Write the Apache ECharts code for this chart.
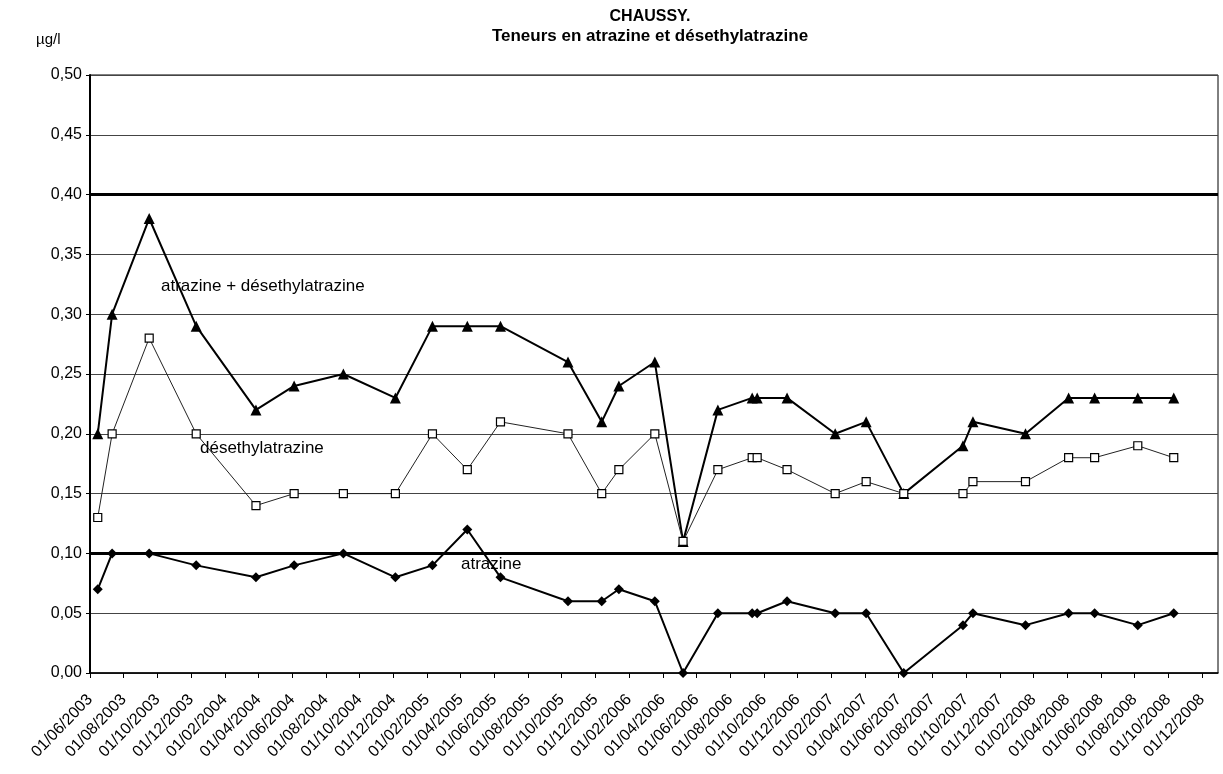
<!DOCTYPE html>
<html>
<head>
<meta charset="utf-8">
<script src="https://cdn.jsdelivr.net/npm/echarts@6/dist/echarts.min.js"></script>
<style>
html,body{margin:0;padding:0;background:#fff;}
#chart{width:1223px;height:774px;}
</style>
</head>
<body>
<div id="chart"></div>
<script>
// ---- data ----
const tickLabels = [
  "01/06/2003","01/08/2003","01/10/2003","01/12/2003",
  "01/02/2004","01/04/2004","01/06/2004","01/08/2004","01/10/2004","01/12/2004",
  "01/02/2005","01/04/2005","01/06/2005","01/08/2005","01/10/2005","01/12/2005",
  "01/02/2006","01/04/2006","01/06/2006","01/08/2006","01/10/2006","01/12/2006",
  "01/02/2007","01/04/2007","01/06/2007","01/08/2007","01/10/2007","01/12/2007",
  "01/02/2008","01/04/2008","01/06/2008","01/08/2008","01/10/2008","01/12/2008"
];
const sampleDates = [
  "2003-06-15","2003-07-11","2003-09-16","2003-12-10",
  "2004-03-27","2004-06-04","2004-09-01","2004-12-04",
  "2005-02-09","2005-04-13","2005-06-12","2005-10-12","2005-12-12",
  "2006-01-12","2006-03-18","2006-05-08","2006-07-10","2006-09-10","2006-09-19","2006-11-12",
  "2007-02-07","2007-04-04","2007-06-11","2007-09-26","2007-10-14",
  "2008-01-17","2008-04-04","2008-05-21","2008-08-07","2008-10-11"
];
const sumValues = [0.20,0.30,0.38,0.29,0.22,0.24,0.25,0.23,0.29,0.29,0.29,0.26,0.21,0.24,0.26,0.11,0.22,0.23,0.23,0.23,0.20,0.21,0.15,0.19,0.21,0.20,0.23,0.23,0.23,0.23];
const desValues = [0.13,0.20,0.28,0.20,0.14,0.15,0.15,0.15,0.20,0.17,0.21,0.20,0.15,0.17,0.20,0.11,0.17,0.18,0.18,0.17,0.15,0.16,0.15,0.15,0.16,0.16,0.18,0.18,0.19,0.18];
const atrValues = [0.07,0.10,0.10,0.09,0.08,0.09,0.10,0.08,0.09,0.12,0.08,0.06,0.06,0.07,0.06,0.00,0.05,0.05,0.05,0.06,0.05,0.05,0.00,0.04,0.05,0.04,0.05,0.05,0.04,0.05];
const thresholds = [0.40, 0.10];

// ---- helpers ----
const DAY = 86400000;
const origin = Date.UTC(2003, 5, 1);
function dayOf(s){ const p = s.split('-').map(Number); return (Date.UTC(p[0], p[1]-1, p[2]) - origin) / DAY; }
const xs = sampleDates.map(dayOf);
const lastTickDay = dayOf("2008-12-01");
const tickInterval = lastTickDay / (tickLabels.length - 1);
const axisMax = dayOf("2008-12-30");
const pair = vals => xs.map((x, i) => [x, vals[i]]);
const FONT = '"Liberation Sans", Arial, sans-serif';

const chart = echarts.init(document.getElementById('chart'), null, {renderer: 'canvas'});
chart.setOption({
  animation: false,
  backgroundColor: '#fff',
  title: [
    {text: 'CHAUSSY.', left: 645, top: 4, textAlign: 'center',
     textStyle: {fontFamily: FONT, fontSize: 16, fontWeight: 'bold', color: '#000'}},
    {text: 'Teneurs en atrazine et désethylatrazine', left: 645, top: 23, textAlign: 'center',
     textStyle: {fontFamily: FONT, fontSize: 17, fontWeight: 'bold', color: '#000'}}
  ],
  graphic: [
    {type: 'text', left: 36, top: 32, style: {text: 'µg/l', font: '15px ' + FONT, fill: '#000'}},
    {type: 'text', left: 161, top: 278, style: {text: 'atrazine + désethylatrazine', font: '17px ' + FONT, fill: '#000'}},
    {type: 'text', left: 200, top: 440, style: {text: 'désethylatrazine', font: '17px ' + FONT, fill: '#000'}},
    {type: 'text', left: 461, top: 556, style: {text: 'atrazine', font: '17px ' + FONT, fill: '#000'}}
  ],
  grid: {left: 90, right: 5, top: 75, bottom: 101, show: true, borderColor: '#000', borderWidth: 1},
  xAxis: {
    type: 'value', min: 0, max: axisMax, interval: tickInterval,
    axisLine: {show: true, onZero: false, lineStyle: {color: '#000', width: 1.5}},
    axisTick: {show: true, length: 5, lineStyle: {color: '#000', width: 1}},
    splitLine: {show: false},
    axisLabel: {
      rotate: 46, margin: 24, showMaxLabel: false,
      fontFamily: FONT, fontSize: 16, color: '#000',
      formatter: v => tickLabels[Math.round(v / tickInterval)] || ''
    }
  },
  yAxis: {
    type: 'value', min: 0, max: 0.5, interval: 0.05,
    axisLine: {show: true, lineStyle: {color: '#000', width: 2}},
    axisTick: {show: true, length: 4, lineStyle: {color: '#000'}},
    splitLine: {show: true, lineStyle: {color: '#444', width: 1}},
    axisLabel: {fontFamily: FONT, fontSize: 16, color: '#000', margin: 8,
      formatter: v => v.toFixed(2).replace('.', ',')}
  },
  series: [
    {
      name: 'atrazine + désethylatrazine', type: 'line', data: pair(sumValues),
      symbol: 'triangle', symbolSize: 11,
      lineStyle: {color: '#000', width: 2}, itemStyle: {color: '#000'},
      markLine: {
        silent: true, symbol: ['none', 'none'], label: {show: false},
        lineStyle: {color: '#000', width: 3, type: 'solid'},
        data: thresholds.map(t => ({yAxis: t}))
      }
    },
    {
      name: 'désethylatrazine', type: 'line', data: pair(desValues),
      symbol: 'rect', symbolSize: 8,
      lineStyle: {color: '#222', width: 1},
      itemStyle: {color: '#fff', borderColor: '#000', borderWidth: 1.2}
    },
    {
      name: 'atrazine', type: 'line', data: pair(atrValues),
      symbol: 'diamond', symbolSize: 10,
      lineStyle: {color: '#000', width: 2}, itemStyle: {color: '#000'}
    }
  ]
});
</script>
</body>
</html>
